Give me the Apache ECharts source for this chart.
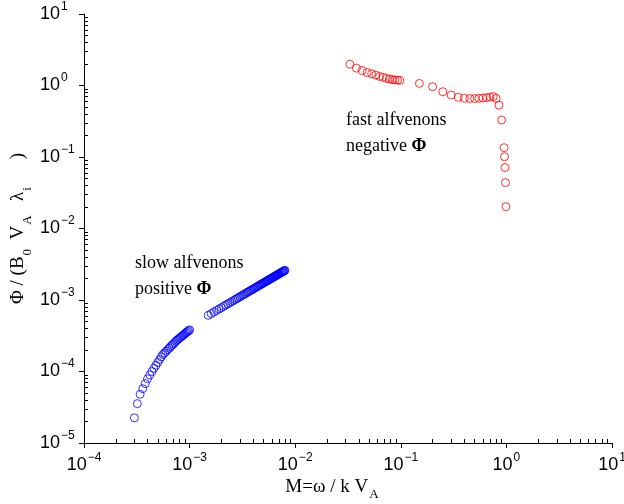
<!DOCTYPE html>
<html><head><meta charset="utf-8">
<script src="https://cdn.jsdelivr.net/npm/echarts@6/dist/echarts.min.js"></script>
<style>html,body{margin:0;padding:0;background:#fff}#c{width:624px;height:504px}</style>
</head><body><div id="c"></div>
<script>
// slow alfvenons (positive Phi), blue
const slowM = [
3.0e-4,3.2e-4,3.4e-4,3.6e-4,3.8e-4,4.0e-4,4.2e-4,4.4e-4,4.6e-4,4.8e-4,
5.0e-4,5.2e-4,5.4e-4,5.6e-4,5.8e-4,6.0e-4,6.2e-4,6.4e-4,6.6e-4,6.8e-4,
7.0e-4,7.2e-4,7.4e-4,7.6e-4,7.8e-4,8.0e-4,8.2e-4,8.4e-4,8.6e-4,8.8e-4,
9.0e-4,9.2e-4,9.4e-4,9.6e-4,9.8e-4,1.0e-3,
1.5e-3,1.6e-3,1.7e-3,1.8e-3,1.9e-3,2.0e-3,2.1e-3,2.2e-3,2.3e-3,2.4e-3,
2.5e-3,2.6e-3,2.7e-3,2.8e-3,2.9e-3,3.0e-3,3.1e-3,3.2e-3,3.3e-3,3.4e-3,
3.5e-3,3.6e-3,3.7e-3,3.8e-3,3.9e-3,4.0e-3,4.1e-3,4.2e-3,4.3e-3,4.4e-3,
4.5e-3,4.6e-3,4.7e-3,4.8e-3,4.9e-3,5.0e-3,5.1e-3,5.2e-3,5.3e-3,5.4e-3,
5.5e-3,5.6e-3,5.7e-3,5.8e-3,5.9e-3,6.0e-3,6.1e-3,6.2e-3,6.3e-3,6.4e-3,
6.5e-3,6.6e-3,6.7e-3,6.8e-3,6.9e-3,7.0e-3,7.1e-3,7.2e-3,7.3e-3,7.4e-3,
7.5e-3,7.6e-3,7.7e-3,7.8e-3,7.9e-3,8.0e-3
];
const slowPhi = [
2.25e-5,3.55e-5,4.80e-5,5.75e-5,6.77e-5,7.92e-5,8.93e-5,1.00e-4,1.11e-4,1.22e-4,
1.34e-4,1.47e-4,1.60e-4,1.73e-4,1.82e-4,1.92e-4,2.02e-4,2.12e-4,2.22e-4,2.32e-4,
2.42e-4,2.53e-4,2.64e-4,2.74e-4,2.83e-4,2.92e-4,3.01e-4,3.10e-4,3.19e-4,3.27e-4,
3.37e-4,3.46e-4,3.55e-4,3.64e-4,3.73e-4,3.82e-4,
6.10e-4,6.45e-4,6.80e-4,7.14e-4,7.48e-4,7.82e-4,8.16e-4,8.50e-4,8.83e-4,9.16e-4,
9.49e-4,9.82e-4,1.015e-3,1.047e-3,1.079e-3,1.112e-3,1.144e-3,1.175e-3,1.207e-3,1.239e-3,
1.271e-3,1.302e-3,1.333e-3,1.364e-3,1.395e-3,1.426e-3,1.457e-3,1.488e-3,1.518e-3,1.549e-3,
1.579e-3,1.610e-3,1.640e-3,1.670e-3,1.700e-3,1.730e-3,1.760e-3,1.790e-3,1.820e-3,1.849e-3,
1.879e-3,1.908e-3,1.938e-3,1.967e-3,1.997e-3,2.026e-3,2.055e-3,2.084e-3,2.113e-3,2.143e-3,
2.171e-3,2.200e-3,2.229e-3,2.258e-3,2.287e-3,2.316e-3,2.344e-3,2.373e-3,2.401e-3,2.430e-3,
2.459e-3,2.487e-3,2.515e-3,2.543e-3,2.571e-3,2.600e-3
];
// fast alfvenons (negative Phi, shown as |Phi|), red
const fastM = [0.033,0.038,0.043,0.048,0.053,0.058,0.063,0.068,0.073,0.078,0.083,0.088,0.093,0.098,
0.15,0.2,0.25,0.3,0.35,0.4,0.45,0.5,0.55,0.6,0.65,0.7,0.75,0.8,0.85,0.9,0.95,0.96,0.97,0.98,0.99];
const fastPhi = [1.98,1.75,1.62,1.52,1.46,1.40,1.34,1.30,1.26,1.23,1.21,1.20,1.19,1.18,
1.07,0.962,0.819,0.736,0.684,0.662,0.657,0.657,0.662,0.668,0.678,0.689,0.700,0.66,0.53,0.329,0.135,0.101,0.0713,0.0438,0.0202];

const xTickExps = [-4,-3,-2,-1,0,1];
const yTickExps = [-5,-4,-3,-2,-1,0,1];
const minorFactors = [2,3,4,5,6,7,8,9];
const noteSlow = ['slow alfvenons','positive ','Φ'];
const noteFast = ['fast alfvenons','negative ','Φ'];

function minorVals(exps){
  const out=[];
  for(let i=0;i<exps.length-1;i++) for(const k of minorFactors) out.push(exps[i]+Math.log10(k));
  return out;
}
function expLabel(v){
  const e=Math.round(v);
  return '{b|10}{s|'+(e<0?'−'+(-e):e)+'}';
}
const labRich = {
  b:{fontFamily:'Liberation Sans',fontSize:18,color:'#000'},
  s:{fontFamily:'Liberation Sans',fontSize:12,color:'#000',padding:[0,0,15,1]}
};
const serif='Liberation Serif';
const xNameRich = {
  t:{fontFamily:serif,fontSize:19,color:'#000'},
  s:{fontFamily:serif,fontSize:13,color:'#000',padding:[15,0,0,1]},
  g:{width:32}
};
const yNameRich = {
  t:{fontFamily:serif,fontSize:19,color:'#000'},
  s:{fontFamily:serif,fontSize:13,color:'#000',padding:[18,0,0,1]},
  g:{width:28}
};
const noteRich = {
  n:{fontFamily:serif,fontSize:18,color:'#111'},
  p:{fontFamily:serif,fontSize:18,fontWeight:'bold',color:'#111'}
};
const noLine={show:false,onZero:false};
const chart = echarts.init(document.getElementById('c'),null,{renderer:'canvas'});
const xMin=Math.pow(10,xTickExps[0]), xMax=Math.pow(10,xTickExps[xTickExps.length-1]);
const yMin=Math.pow(10,yTickExps[0]), yMax=Math.pow(10,yTickExps[yTickExps.length-1]);
function note(x,y,lines){
  return [
    {type:'text',x:x,y:y,style:{text:'{n|'+lines[0]+'}',rich:noteRich,verticalAlign:'middle'}},
    {type:'text',x:x,y:y+26,style:{text:'{n|'+lines[1]+'}{p|'+lines[2]+'}',rich:noteRich,verticalAlign:'middle'}}
  ];
}
chart.setOption({
  animation:false,
  backgroundColor:'#fff',
  grid:{left:84,right:12,top:14,bottom:61,containLabel:false,outerBoundsMode:'none'},
  xAxis:[
    {type:'log',logBase:10,min:xMin,max:xMax,position:'bottom',
     axisLine:{show:true,onZero:false,lineStyle:{color:'#000',width:1}},axisTick:{show:false},axisLabel:{show:false},splitLine:{show:false},
     name:'{t|M=ω / k V}{s|A}{g|}',nameLocation:'middle',nameGap:30,nameTextStyle:{rich:xNameRich}},
    {type:'value',min:xTickExps[0],max:xTickExps[xTickExps.length-1],interval:1,position:'bottom',
     axisLine:noLine,axisTick:{show:true,inside:false,length:5,lineStyle:{color:'#000'}},
     axisLabel:{show:true,margin:9,formatter:expLabel,rich:labRich},splitLine:{show:false}},
    {type:'value',min:xTickExps[0],max:xTickExps[xTickExps.length-1],position:'bottom',
     axisLine:noLine,axisTick:{show:true,inside:true,length:4,customValues:minorVals(xTickExps),lineStyle:{color:'#000'}},
     axisLabel:{show:false},splitLine:{show:false}}
  ],
  yAxis:[
    {type:'log',logBase:10,min:yMin,max:yMax,position:'left',
     axisLine:{show:true,onZero:false,lineStyle:{color:'#000',width:1}},axisTick:{show:false},axisLabel:{show:false},splitLine:{show:false},
     name:'{t|Φ / (B}{s|0}{t|  V}{s|A}{t|   λ}{s|i}{g|}{t|)}',nameLocation:'middle',nameGap:50,nameRotate:90,
     nameTextStyle:{rich:yNameRich}},
    {type:'value',min:yTickExps[0],max:yTickExps[yTickExps.length-1],interval:1,position:'left',
     axisLine:noLine,axisTick:{show:true,inside:false,length:5,lineStyle:{color:'#000'}},
     axisLabel:{show:true,margin:44,align:'left',formatter:expLabel,rich:labRich},splitLine:{show:false}},
    {type:'value',min:yTickExps[0],max:yTickExps[yTickExps.length-1],position:'left',
     axisLine:noLine,axisTick:{show:true,inside:true,length:4,customValues:minorVals(yTickExps),lineStyle:{color:'#000'}},
     axisLabel:{show:false},splitLine:{show:false}}
  ],
  series:[
    {type:'scatter',xAxisIndex:0,yAxisIndex:0,symbol:'circle',symbolSize:8,
     itemStyle:{color:'rgba(0,0,0,0)',borderColor:'#0000ff',borderWidth:1},
     emphasis:{disabled:true},data:slowM.map((m,i)=>[m,slowPhi[i]])},
    {type:'scatter',xAxisIndex:0,yAxisIndex:0,symbol:'circle',symbolSize:8,
     itemStyle:{color:'rgba(0,0,0,0)',borderColor:'#ff0000',borderWidth:1},
     emphasis:{disabled:true},data:fastM.map((m,i)=>[m,fastPhi[i]])}
  ],
  graphic:[].concat(note(135,263,noteSlow),note(346,120,noteFast))
});
</script></body></html>
